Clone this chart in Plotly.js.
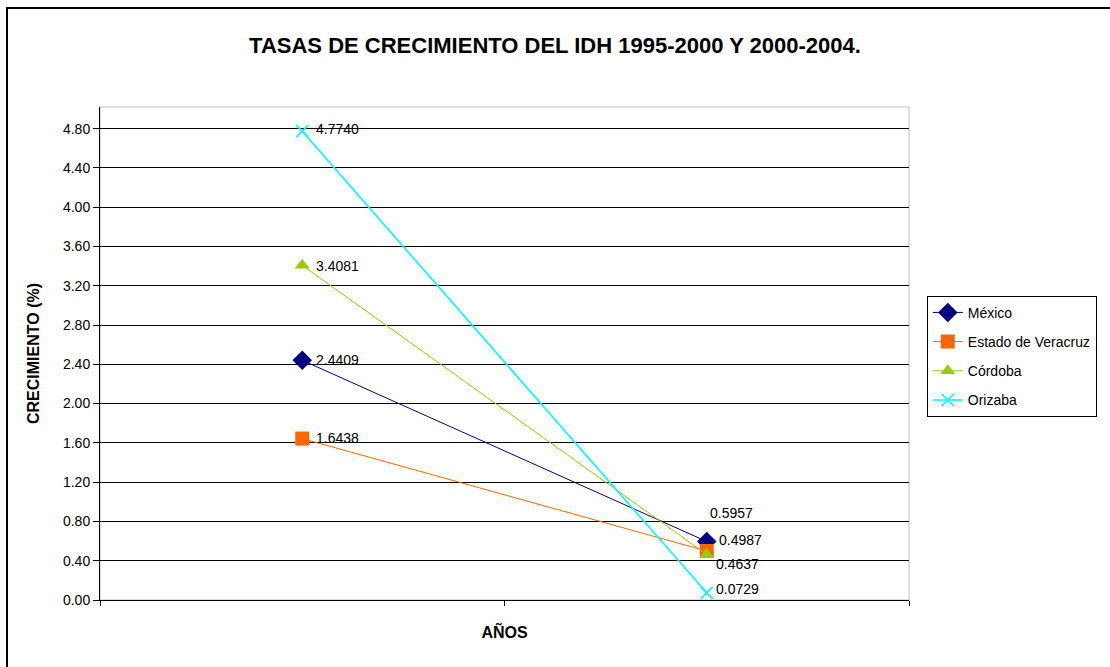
<!DOCTYPE html>
<html>
<head>
<meta charset="utf-8">
<script src="https://cdn.plot.ly/plotly-3.0.1.min.js"></script>
<style>
  body { margin: 0; background: #fff; }
  #frame { position: absolute; left: 6px; top: 7px; width: 1200px; height: 700px;
           border-top: 2px solid #000; border-left: 2px solid #000; pointer-events: none; }
  #chart { position: absolute; left: 0; top: 0; width: 1110px; height: 667px; }
</style>
</head>
<body>
<div id="chart"></div>
<div id="frame"></div>
<script>
// periods (category labels are not shown on the axis)
const periodos = ['1995-2000', '2000-2004'];

const mexico = [2.4409, 0.5957];
const veracruz = [1.6438, 0.4987];
const cordoba = [3.4081, 0.4637];
const orizaba = [4.7740, 0.0729];

const nombres = ['México', 'Estado de Veracruz', 'Córdoba', 'Orizaba'];
const series = [mexico, veracruz, cordoba, orizaba];

const font = 'Arial, "Liberation Sans", sans-serif';

const estilos = [
  {color: '#000080', symbol: 'diamond', size: 15, width: 1},
  {color: '#FF6600', symbol: 'square', size: 14, width: 1},
  {color: '#99CC00', symbol: 'triangle-up', size: 13, width: 1},
  {color: '#00FFFF', symbol: 'x-thin', size: 12, width: 1.6}
];

let data = [];
series.forEach((ys, i) => {
  let s = estilos[i];
  data.push({
    x: periodos, y: ys, type: 'scatter', mode: 'lines+markers', name: nombres[i],
    legendgroup: 'g' + i,
    line: {color: s.color, width: s.width},
    marker: {color: s.color, symbol: s.symbol, size: s.size,
             line: {color: s.color, width: s.symbol == 'x-thin' ? 1.6 : 0}},
    hoverinfo: 'x+y'
  });
});

// data labels: shifts in px for each point [first, second]
const shifts = [
  [[12, 0], [1, 29]],
  [[12, 1], [10, 11]],
  [[12, -1], [7, -10]],
  [[12, 2], [7, 4]]
];
let annotations = [];
series.forEach((ys, i) => {
  ys.forEach((v, j) => {
    annotations.push({
      x: periodos[j], y: v, text: v.toFixed(4), showarrow: false,
      xanchor: 'left', yanchor: 'middle',
      xshift: shifts[i][j][0], yshift: shifts[i][j][1],
      font: {family: font, size: 14, color: '#000'}
    });
  });
});

const layout = {
  width: 1110, height: 667,
  margin: {l: 100, r: 201, t: 107, b: 67, autoexpand: false},
  paper_bgcolor: 'rgba(0,0,0,0)', plot_bgcolor: '#fff',
  font: {family: font, size: 14, color: '#000'},
  title: {
    text: '<b>TASAS DE CRECIMIENTO DEL IDH 1995-2000 Y 2000-2004.</b>',
    font: {family: font, size: 22, color: '#000'},
    x: 0.5, xanchor: 'center', y: 0.932, yanchor: 'middle'
  },
  xaxis: {
    type: 'category', range: [-0.5, 1.5],
    showticklabels: false, showgrid: false, zeroline: false,
    showline: true, linecolor: '#000', linewidth: 1,
    ticks: 'outside', tickson: 'boundaries', ticklen: 5, tickcolor: '#000',
    title: {text: '<b>AÑOS</b>', font: {family: font, size: 16}, standoff: 26}
  },
  yaxis: {
    range: [0, 5.02], dtick: 0.4, tick0: 0, tickformat: '.2f',
    showgrid: true, gridcolor: '#000', gridwidth: 1, zeroline: false,
    showline: true, linecolor: '#000', linewidth: 1,
    ticks: 'outside', ticklen: 6, tickcolor: '#000',
    tickfont: {family: font, size: 14},
    title: {text: '<b>CRECIMIENTO (%)</b>', font: {family: font, size: 16}, standoff: 19}
  },
  shapes: [{
    type: 'rect', xref: 'paper', yref: 'paper', x0: 0, x1: 1, y0: 0, y1: 1,
    line: {color: '#c0c0c0', width: 1}, layer: 'below'
  }],
  legend: {
    x: 1.022, xanchor: 'left', y: 0.617, yanchor: 'top',
    bordercolor: '#000', borderwidth: 1, bgcolor: '#fff',
    font: {family: font, size: 14}, tracegroupgap: 8, itemwidth: 30
  },
  annotations: annotations,
  showlegend: true
};

Plotly.newPlot('chart', data, layout, {displayModeBar: false});
</script>
</body>
</html>
